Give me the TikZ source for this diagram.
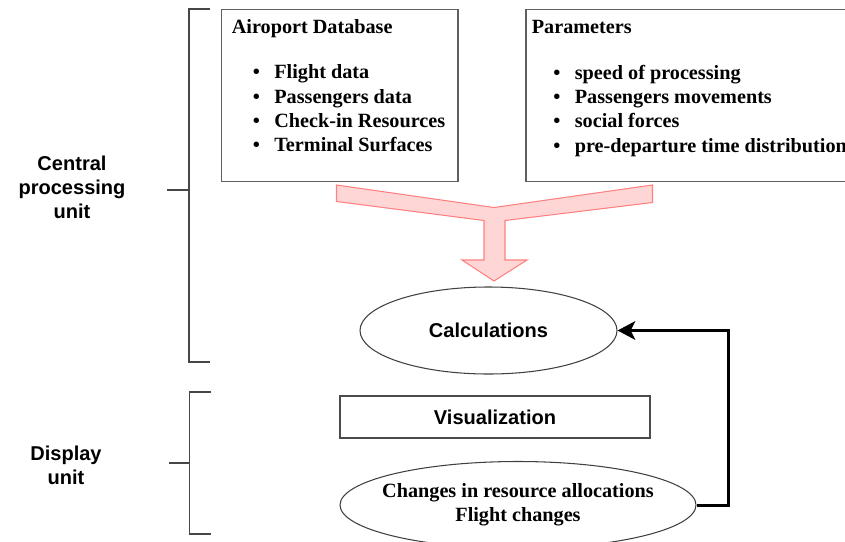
\documentclass[tikz,border=0pt]{standalone}
\usepackage{fontspec}
\setmainfont{Liberation Serif}
\setsansfont{Liberation Sans}
\usepackage{tikz}
\usetikzlibrary{arrows.meta,shapes.geometric,positioning,calc}
\newcommand{\bul}{\textbullet\hspace{8.2pt}}

\begin{document}
\begin{tikzpicture}[
    serifb/.style={font=\fontsize{11.5}{13.85}\selectfont\bfseries},
    sansb/.style={font=\sffamily\bfseries\fontsize{11.4}{13.6}\selectfont},
    inbox/.style={draw=boxgray,line width=0.85pt,rectangle,inner sep=0pt},
    oval/.style={draw=black!75,line width=0.6pt,ellipse,inner sep=0pt},
    brack/.style={draw=brackgray,line width=0.7pt},
    fb/.style={line width=1.7pt,-{Stealth[length=10pt,width=10.5pt,inset=2.5pt]}}
  ]
    \definecolor{boxgray}{RGB}{95, 95, 95}
    \definecolor{brackgray}{RGB}{70, 70, 70}
    \definecolor{pinkfill}{RGB}{255, 214, 214}
    \definecolor{pinkline}{RGB}{255, 128, 128}

    \useasboundingbox (0,0) rectangle (16.9,-10.82);

    \node [inbox,anchor=north west,minimum width=4.72cm,minimum height=3.44cm] (db) at (4.42,-0.18) {};
    \node [inbox,anchor=north west,minimum width=7cm,minimum height=3.44cm] (par) at (10.5,-0.18) {};

    \node [serifb,anchor=base west,inner sep=0pt] (dbtitle) at (4.63,-0.66) {Airoport Database};
    \node [serifb,anchor=north west,align=left,inner sep=0pt] (dblist) at (5.05,-1.29)
      {\bul Flight data\\ \bul Passengers data\\ \bul Check-in Resources\\ \bul Terminal Surfaces};

    \node [serifb,anchor=base west,inner sep=0pt] (partitle) at (10.63,-0.66) {Parameters};
    \node [serifb,anchor=north west,align=left,inner sep=0pt] (parlist) at (11.06,-1.29)
      {\bul speed of processing\\ \bul Passengers movements\\ \bul social forces\\ \bul pre-departure time distribution};

    \fill [pinkfill,draw=pinkline,line width=0.6pt] (6.73,-3.70) -- (9.88,-4.15) -- (13.05,-3.70) -- (13.05,-4.05)
      -- (10.10,-4.41) -- (10.10,-5.20) -- (10.54,-5.20) -- (9.88,-5.62) -- (9.24,-5.20) -- (9.68,-5.20)
      -- (9.68,-4.41) -- (6.73,-4.03) -- cycle;

    \node [oval,sansb,minimum width=5.14cm,minimum height=1.74cm] (calc) at (9.77,-6.61) {Calculations};
    \node [inbox,draw=black!70,line width=0.6pt,sansb,minimum width=6.2cm,minimum height=0.84cm] (vis) at (9.9,-8.34) {Visualization};
    \node [oval,serifb,align=center,inner xsep=-6pt,minimum width=7.12cm,minimum height=1.74cm] (chg) at (10.36,-10.1)
      {Changes in resource allocations\\ Flight changes};

    \draw [fb] (chg.east) -- ++(0.64,0) |- (calc.east);

    \draw [brack] (4.2,-0.18) -- (3.78,-0.18) -- (3.78,-7.24) -- (4.2,-7.24);
    \draw [brack] (3.78,-3.8) -- (3.34,-3.8);
    \draw [brack] (4.22,-7.84) -- (3.79,-7.84) -- (3.79,-10.68) -- (4.22,-10.68);
    \draw [brack] (3.79,-9.26) -- (3.38,-9.26);

    \node [sansb,align=center] (cpu) at (1.44,-3.74) {Central\\ processing\\ unit};
    \node [sansb,align=center] (disp) at (1.32,-9.3) {Display\\ unit};
  \end{tikzpicture}
\end{document}
